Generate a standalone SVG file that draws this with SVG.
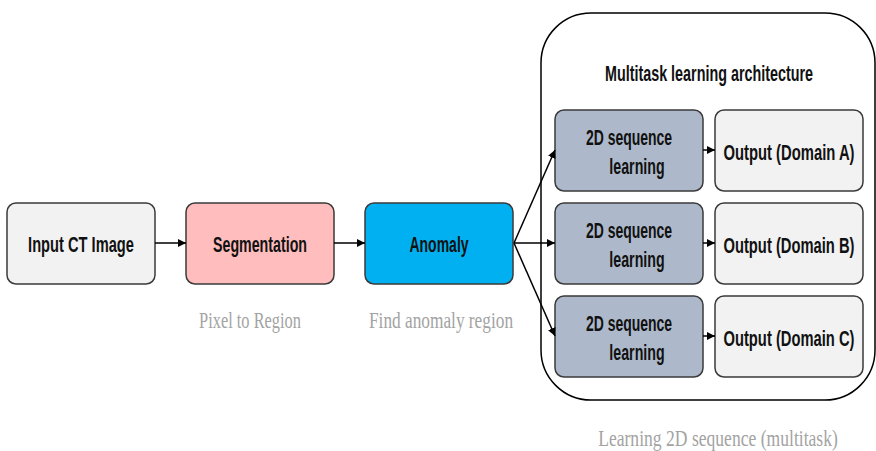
<svg xmlns="http://www.w3.org/2000/svg" width="876" height="451" viewBox="0 0 876 451">
<defs>
<marker id="ah" viewBox="0 0 10 10" refX="10" refY="5" markerWidth="8" markerHeight="8" markerUnits="userSpaceOnUse" orient="auto">
<path d="M0,0 L10,5 L0,10 z" fill="#000"/>
</marker>
<style>
.box{stroke:#3a3a3a;stroke-width:1.5}
.lbl{font-family:"Liberation Sans",Arial,sans-serif;font-weight:bold;font-size:21.5px;fill:#111;text-anchor:middle}
.cap{font-family:"Liberation Serif","Times New Roman",serif;font-size:23.5px;fill:#A3A3A3;text-anchor:middle}
.con{stroke:#000;stroke-width:1.5;fill:none;marker-end:url(#ah)}
</style>
</defs>
<rect width="876" height="451" fill="#fff"/>

<g id="container">
<rect x="541" y="13" width="334" height="387" rx="50" ry="50" fill="none" stroke="#000" stroke-width="1.5"/>
<text class="lbl" transform="translate(709,81) scale(0.667,1)" textLength="312" lengthAdjust="spacingAndGlyphs">Multitask learning architecture</text>
</g>

<g id="input">
<rect class="box" x="7" y="203" width="148" height="81" rx="9" fill="#F2F2F2"/>
<text class="lbl" transform="translate(81,252) scale(0.683,1)" textLength="155" lengthAdjust="spacingAndGlyphs">Input CT Image</text>
</g>
<g id="segmentation">
<rect class="box" x="186" y="203" width="148" height="81" rx="9" fill="#FFBDBD"/>
<text class="lbl" transform="translate(260,252) scale(0.662,1)" textLength="142" lengthAdjust="spacingAndGlyphs">Segmentation</text>
</g>
<g id="anomaly">
<rect class="box" x="365" y="203" width="148" height="81" rx="9" fill="#00B0F0"/>
<text class="lbl" transform="translate(439,252) scale(0.65,1)" textLength="91" lengthAdjust="spacingAndGlyphs">Anomaly</text>
</g>

<g id="seqA">
<rect class="box" x="555" y="110" width="148" height="81" rx="9" fill="#ADB9CA"/>
<text class="lbl" transform="translate(629,145) scale(0.648,1)" textLength="133" lengthAdjust="spacingAndGlyphs">2D sequence</text>
<text class="lbl" transform="translate(637,174) scale(0.658,1)" textLength="84" lengthAdjust="spacingAndGlyphs">learning</text>
</g>
<g id="seqB">
<rect class="box" x="555" y="203" width="148" height="81" rx="9" fill="#ADB9CA"/>
<text class="lbl" transform="translate(629,238) scale(0.648,1)" textLength="133" lengthAdjust="spacingAndGlyphs">2D sequence</text>
<text class="lbl" transform="translate(637,267) scale(0.658,1)" textLength="84" lengthAdjust="spacingAndGlyphs">learning</text>
</g>
<g id="seqC">
<rect class="box" x="555" y="296" width="148" height="81" rx="9" fill="#ADB9CA"/>
<text class="lbl" transform="translate(629,331) scale(0.648,1)" textLength="133" lengthAdjust="spacingAndGlyphs">2D sequence</text>
<text class="lbl" transform="translate(637,360) scale(0.658,1)" textLength="84" lengthAdjust="spacingAndGlyphs">learning</text>
</g>

<g id="outA">
<rect class="box" x="715" y="110" width="148" height="81" rx="9" fill="#F2F2F2"/>
<text class="lbl" transform="translate(789,160) scale(0.686,1)" textLength="191" lengthAdjust="spacingAndGlyphs">Output (Domain A)</text>
</g>
<g id="outB">
<rect class="box" x="715" y="203" width="148" height="81" rx="9" fill="#F2F2F2"/>
<text class="lbl" transform="translate(789,253) scale(0.686,1)" textLength="191" lengthAdjust="spacingAndGlyphs">Output (Domain B)</text>
</g>
<g id="outC">
<rect class="box" x="715" y="296" width="148" height="81" rx="9" fill="#F2F2F2"/>
<text class="lbl" transform="translate(789,346) scale(0.686,1)" textLength="191" lengthAdjust="spacingAndGlyphs">Output (Domain C)</text>
</g>

<g id="captions">
<text class="cap" transform="translate(250,328) scale(0.698,1)" textLength="146" lengthAdjust="spacingAndGlyphs">Pixel to Region</text>
<text class="cap" transform="translate(441,328) scale(0.735,1)" textLength="196" lengthAdjust="spacingAndGlyphs">Find anomaly region</text>
<text class="cap" transform="translate(718,446) scale(0.749,1)" textLength="320" lengthAdjust="spacingAndGlyphs">Learning 2D sequence (multitask)</text>
</g>

<g id="connectors">
<line class="con" x1="155" y1="243" x2="186" y2="243"/>
<line class="con" x1="334" y1="243" x2="365" y2="243"/>
<line class="con" x1="514" y1="243" x2="555" y2="150"/>
<line class="con" x1="514" y1="243" x2="555" y2="243"/>
<line class="con" x1="514" y1="243" x2="555" y2="336"/>
<line class="con" x1="703" y1="150" x2="715" y2="150"/>
<line class="con" x1="703" y1="243" x2="715" y2="243"/>
<line class="con" x1="703" y1="336" x2="715" y2="336"/>
</g>
</svg>
